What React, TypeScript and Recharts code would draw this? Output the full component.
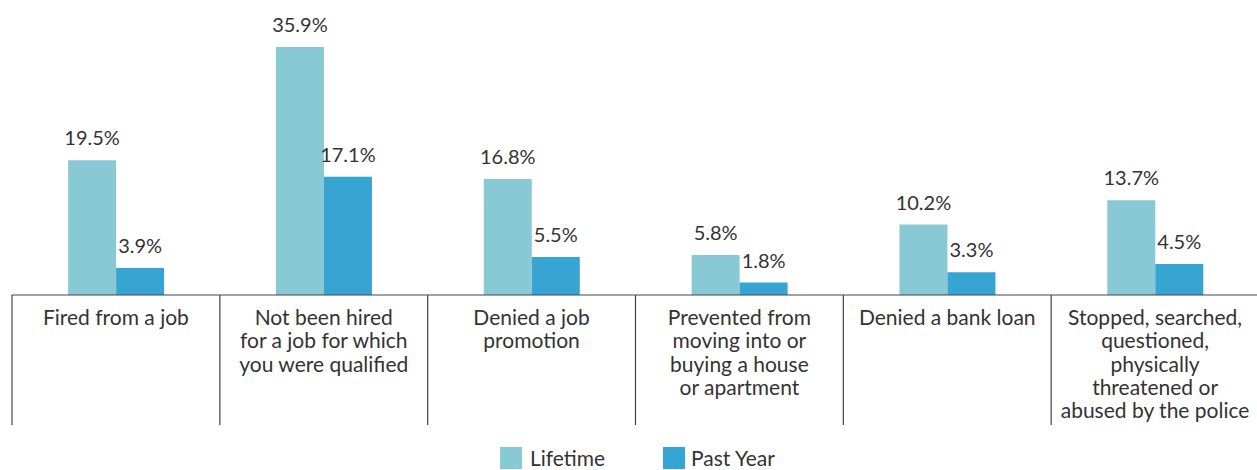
import { BarChart, Bar, XAxis, YAxis, LabelList } from 'recharts';

const categories = [
  ['Fired from a job'],
  ['Not been hired', 'for a job for which', 'you were qualified'],
  ['Denied a job', 'promotion'],
  ['Prevented from', 'moving into or', 'buying a house', 'or apartment'],
  ['Denied a bank loan'],
  ['Stopped, searched,', 'questioned,', 'physically', 'threatened or', 'abused by the police'],
];
const lifetime = [19.5, 35.9, 16.8, 5.8, 10.2, 13.7];
const pastYear = [3.9, 17.1, 5.5, 1.8, 3.3, 4.5];

const LIFETIME_COLOR = '#88c9d5';
const PAST_YEAR_COLOR = '#36a5d4';
const TEXT_COLOR = '#333333';
const FONT = 'Lato, "Open Sans", sans-serif';

const data = categories.map((lines, i) => ({
  name: String(i),
  lifetime: lifetime[i],
  pastYear: pastYear[i],
}));

// category label with a divider on its left edge
const CategoryTick = ({ x, y, payload }: any) => {
  const lines = categories[Number(payload.value)];
  const band = 1247 / 6;
  const left = x - band / 2;
  const axisY = y - 8;
  return (
    <g>
      <line x1={left} y1={axisY} x2={left} y2={axisY + 130} stroke="#444" strokeWidth={1.2} />
      <text x={x} y={axisY + 30} textAnchor="middle" fill={TEXT_COLOR} fontSize={21} fontFamily={FONT}>
        {lines.map((line: string, i: number) => (
          <tspan key={i} x={x} dy={i === 0 ? 0 : 23.3}>{line}</tspan>
        ))}
      </text>
    </g>
  );
};

const LegendBox = () => (
  <div style={{ position: 'absolute', left: 0, top: 446, width: 1257, height: 24, fontFamily: FONT, fontSize: 21, color: TEXT_COLOR }}>
    <div style={{ position: 'absolute', left: 500, top: 0, display: 'flex', alignItems: 'center' }}>
      <span style={{ width: 22, height: 22, background: LIFETIME_COLOR, display: 'inline-block' }} />
      <span style={{ marginLeft: 8, lineHeight: '24px' }}>Lifetime</span>
    </div>
    <div style={{ position: 'absolute', left: 663, top: 0, display: 'flex', alignItems: 'center' }}>
      <span style={{ width: 22, height: 22, background: PAST_YEAR_COLOR, display: 'inline-block' }} />
      <span style={{ marginLeft: 6, lineHeight: '24px' }}>Past Year</span>
    </div>
  </div>
);

const labelStyle = { fontSize: 20, fontFamily: FONT, fill: TEXT_COLOR };

export default function App() {
  return (
    <div style={{ position: 'absolute', left: 0, top: 0, width: 1257, height: 470, overflow: 'hidden', background: '#fff' }}>
      <BarChart
        width={1259}
        height={470}
        data={data}
        margin={{ top: 18.6, right: 0, left: 12, bottom: 0 }}
        barGap={0}
        barCategoryGap="27%"
      >
        <XAxis
          dataKey="name"
          axisLine={{ stroke: '#444', strokeWidth: 1.2 }}
          tickLine={false}
          tick={<CategoryTick />}
          interval={0}
          height={175}
        />
        <YAxis hide domain={[0, 40]} />
        <Bar dataKey="lifetime" name="Lifetime" fill={LIFETIME_COLOR} isAnimationActive={false}>
          <LabelList dataKey="lifetime" position="top" offset={15} formatter={(v: any) => `${v}%`} style={labelStyle} />
        </Bar>
        <Bar dataKey="pastYear" name="Past Year" fill={PAST_YEAR_COLOR} isAnimationActive={false}>
          <LabelList dataKey="pastYear" position="top" offset={15} formatter={(v: any) => `${v}%`} style={labelStyle} />
        </Bar>
      </BarChart>
      <LegendBox />
    </div>
  );
}
